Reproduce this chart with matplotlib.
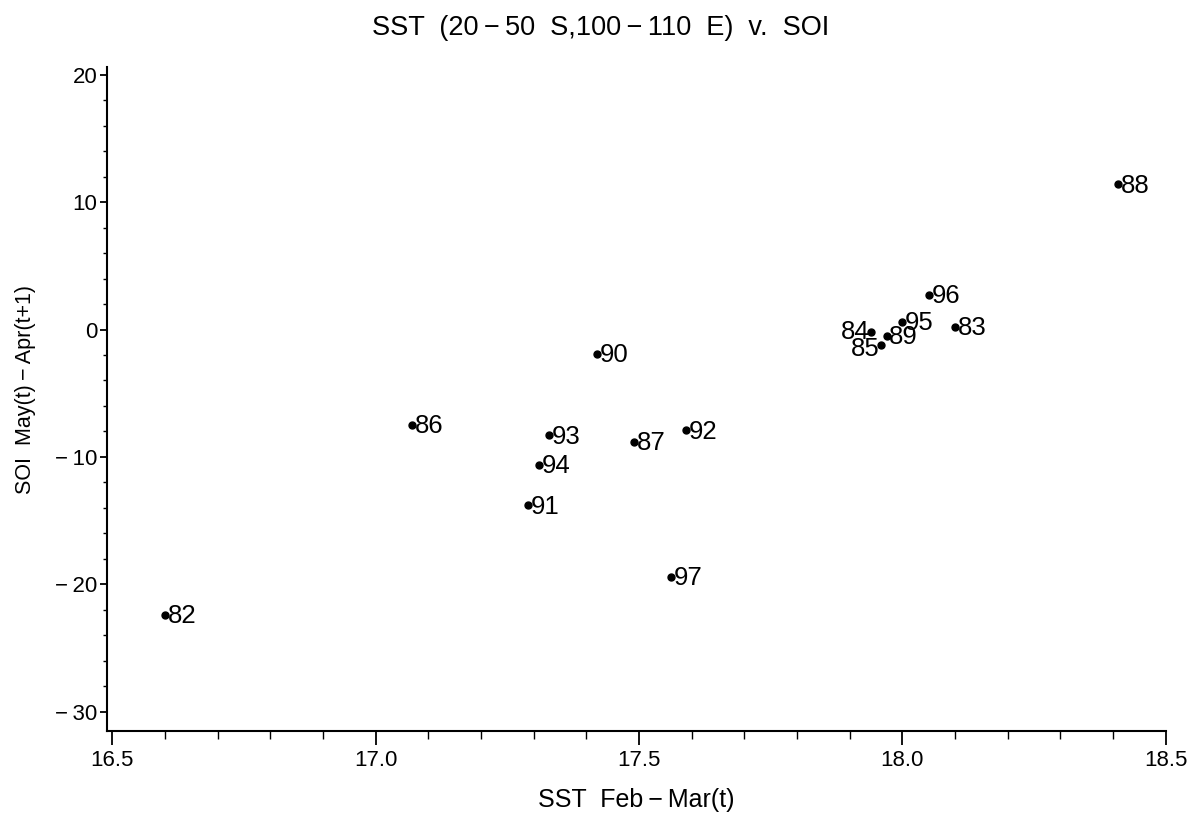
import numpy as np
import matplotlib.pyplot as plt
from matplotlib.ticker import MultipleLocator, FuncFormatter

plt.rcParams['font.family'] = ['Liberation Sans', 'DejaVu Sans']

# Дані: SST (Feb-Mar) та SOI (May - Apr) за роками
years = ['82', '83', '84', '85', '86', '87', '88', '89', '90',
         '91', '92', '93', '94', '95', '96', '97']
sst = [16.60, 18.10, 17.94, 17.96, 17.07, 17.49, 18.41, 17.97, 17.42,
       17.29, 17.59, 17.33, 17.31, 18.00, 18.05, 17.56]
soi = [-22.4, 0.2, -0.2, -1.2, -7.5, -8.8, 11.4, -0.5, -1.9,
       -13.8, -7.9, -8.3, -10.6, 0.6, 2.7, -19.4]
left_labels = ['84', '85']  # підписи зліва від точки

def fmt(v, pos):
    v = int(round(v))
    if v < 0:
        return '\u2212\u2009' + str(-v)
    return str(v)

fig = plt.figure(figsize=(11.98, 8.35), dpi=100)
ax = fig.add_axes([0.0893, 0.1246, 0.8837, 0.7952])

ax.plot(sst, soi, 'o', color='black', markersize=5, linestyle='none')
for x, y, t in zip(sst, soi, years):
    if t in left_labels:
        ax.annotate(t, (x, y), xytext=(-1, 0 if t == '84' else -3),
                    textcoords='offset points', ha='right', va='center',
                    fontsize=18.5)
    else:
        ax.annotate(t, (x, y), xytext=(2, -1), textcoords='offset points',
                    ha='left', va='center', fontsize=18.5)

ax.set_xlim(16.49, 18.5)
ax.set_ylim(-31.5, 20.6)
ax.xaxis.set_major_locator(MultipleLocator(0.5))
ax.xaxis.set_minor_locator(MultipleLocator(0.1))
ax.yaxis.set_major_locator(MultipleLocator(10))
ax.yaxis.set_minor_locator(MultipleLocator(2))
ax.xaxis.set_major_formatter(FuncFormatter(lambda v, p: '%.1f' % v))
ax.yaxis.set_major_formatter(FuncFormatter(fmt))
ax.tick_params(which='major', width=1.3, labelsize=16, direction='out')
ax.tick_params(which='minor', width=1.0, direction='out')
ax.tick_params(axis='x', which='major', length=10, pad=4)
ax.tick_params(axis='x', which='minor', length=6)
ax.tick_params(axis='y', which='major', length=5, pad=2)
ax.tick_params(axis='y', which='minor', length=3)

for s in ['top', 'right']:
    ax.spines[s].set_visible(False)
for s in ['left', 'bottom']:
    ax.spines[s].set_linewidth(1.5)

ax.set_xlabel('SST  Feb\u2009\u2212\u2009Mar(t)', fontsize=18, labelpad=12)
ax.set_ylabel('SOI  May(t)\u2009\u2212\u2009Apr(t+1)', fontsize=15.5, labelpad=10)
ax.yaxis.set_label_coords(-0.067, 0.515)
fig.text(0.501, 0.966, 'SST  (20\u2009\u2212\u200950  S,100\u2009\u2212\u2009110  E)  v.  SOI',
         ha='center', va='center', fontsize=19.5)

plt.savefig('out.png', dpi=100)
